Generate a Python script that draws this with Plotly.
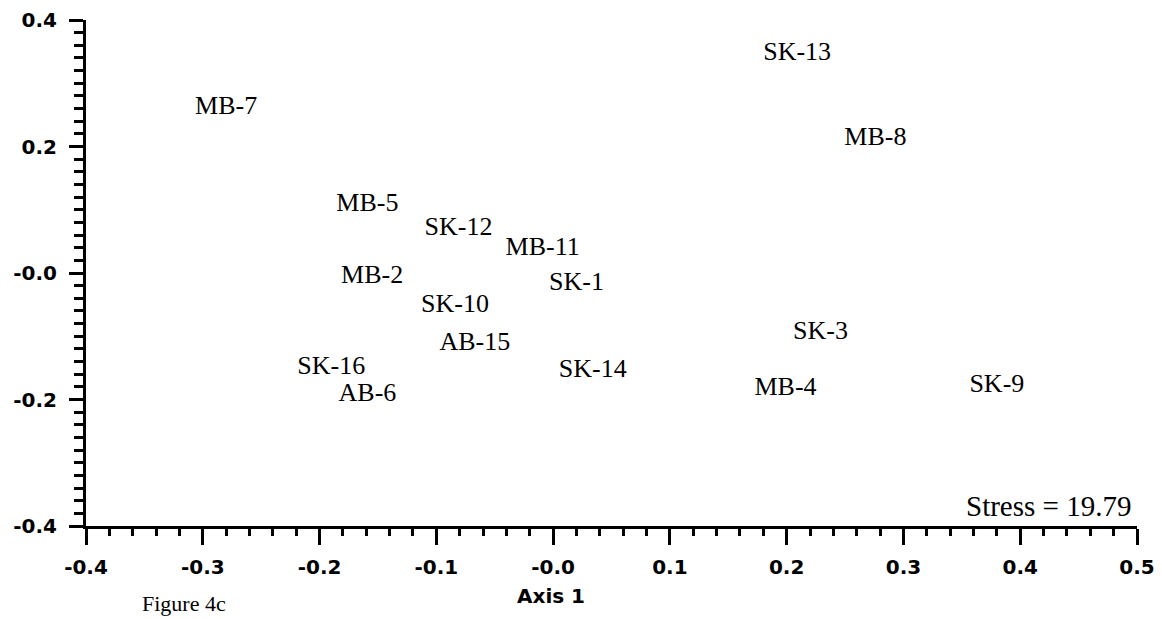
import plotly.graph_objects as go

# Sample labels and NMDS coordinates
sites = ["MB-7", "SK-13", "MB-8", "MB-5", "SK-12", "MB-11", "MB-2", "SK-1",
         "SK-10", "SK-3", "AB-15", "SK-16", "SK-14", "MB-4", "SK-9", "AB-6"]
axis1 = [-0.280, 0.209, 0.276, -0.159, -0.081, -0.009, -0.155, 0.020,
         -0.084, 0.229, -0.067, -0.190, 0.034, 0.199, 0.380, -0.159]
axis2 = [0.262, 0.347, 0.213, 0.108, 0.071, 0.039, -0.005, -0.016,
         -0.052, -0.094, -0.111, -0.149, -0.154, -0.182, -0.178, -0.192]

x_ticks = [-0.4, -0.3, -0.2, -0.1, 0.0, 0.1, 0.2, 0.3, 0.4, 0.5]
x_tick_text = ["-0.4", "-0.3", "-0.2", "-0.1", "-0.0", "0.1", "0.2", "0.3", "0.4", "0.5"]
y_ticks = [-0.4, -0.2, 0.0, 0.2, 0.4]
y_tick_text = ["-0.4", "-0.2", "-0.0", "0.2", "0.4"]

stress_text = "Stress = 19.79"
x_title = "Axis 1"
fig_caption = "Figure 4c"

fig = go.Figure()
fig.add_trace(go.Scatter(
    x=axis1, y=axis2, text=sites, mode="text",
    textposition="middle center",
    textfont=dict(family="Liberation Serif", size=26, color="black"),
    showlegend=False, hoverinfo="text",
))

tick_font = dict(family="DejaVu Sans", size=20, color="black", weight="bold")

fig.update_layout(
    width=1154, height=611,
    margin=dict(l=78, r=25, t=12, b=93, autoexpand=False),
    paper_bgcolor="white", plot_bgcolor="white",
    xaxis=dict(
        range=[-0.4, 0.5], tickmode="array", tickvals=x_ticks, ticktext=x_tick_text,
        showgrid=False, zeroline=False, showline=True, linecolor="black", linewidth=3,
        ticks="outside", ticklen=16, tickwidth=3, tickcolor="black",
        minor=dict(dtick=0.02, tick0=0, ticks="outside", ticklen=7, tickwidth=3,
                   tickcolor="black", showgrid=False),
        tickfont=tick_font, ticklabelstandoff=5, ticklabeloverflow="allow",
        automargin=False,
    ),
    yaxis=dict(
        range=[-0.4, 0.4], tickmode="array", tickvals=y_ticks, ticktext=y_tick_text,
        showgrid=False, zeroline=False, showline=True, linecolor="black", linewidth=3,
        ticks="outside", ticklen=14, tickwidth=3, tickcolor="black",
        minor=dict(dtick=0.02, tick0=0, ticks="outside", ticklen=9, tickwidth=3,
                   tickcolor="black", showgrid=False),
        tickfont=tick_font, ticklabelstandoff=8, ticklabeloverflow="allow",
        automargin=False,
    ),
    annotations=[
        dict(text=stress_text, xref="paper", yref="paper", x=0.996, y=0.039,
             xanchor="right", yanchor="middle", showarrow=False,
             font=dict(family="Liberation Serif", size=29, color="black")),
        dict(text=x_title, xref="x", yref="paper", x=-0.002, y=-0.139,
             xanchor="center", yanchor="middle", showarrow=False,
             font=dict(family="DejaVu Sans", size=20, color="black", weight="bold")),
        dict(text=fig_caption, xref="paper", yref="paper", x=0.051, y=-0.182,
             xanchor="left", yanchor="bottom", showarrow=False,
             font=dict(family="Liberation Serif", size=22, color="black")),
    ],
)

fig.write_html("out.html")
